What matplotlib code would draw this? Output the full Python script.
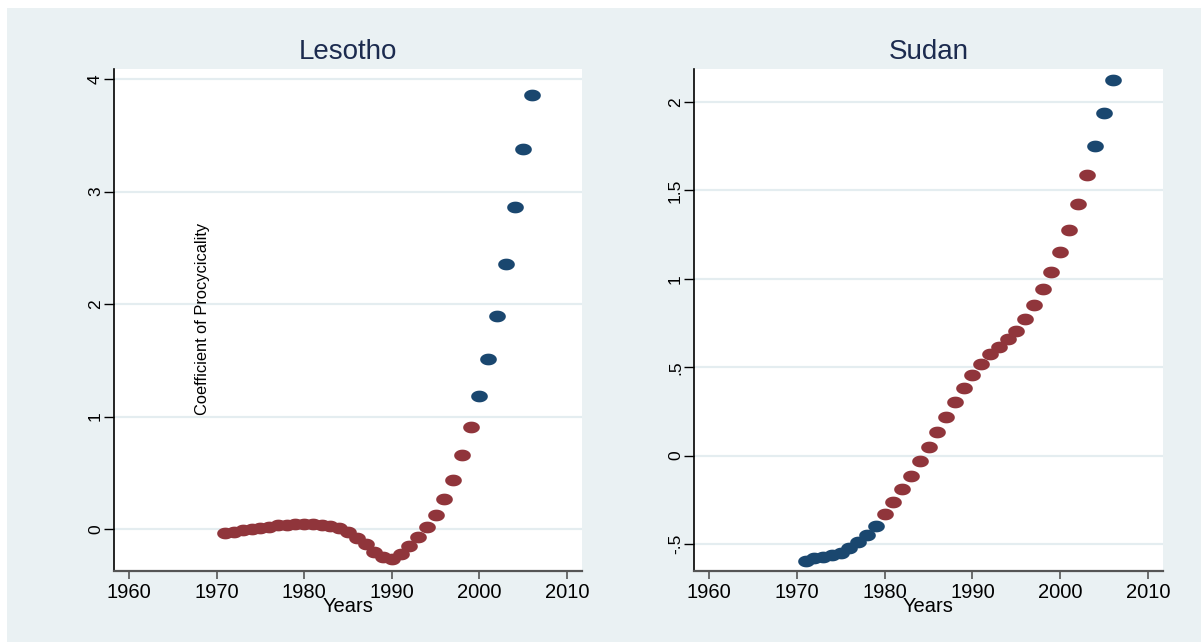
import numpy as np
import matplotlib
matplotlib.use("Agg")
import matplotlib.pyplot as plt
from matplotlib.path import Path
from matplotlib.patches import Rectangle

#---------- data

years = np.arange(1971, 2007)

lesotho = [-0.035, -0.022, -0.010, 0.003, 0.013, 0.022, 0.032, 0.038, 0.041, 0.044,
           0.044, 0.038, 0.029, 0.010, -0.029, -0.076, -0.130, -0.200, -0.250, -0.270,
           -0.225, -0.150, -0.067, 0.022, 0.127, 0.263, 0.435, 0.657, 0.905, 1.187,
           1.508, 1.898, 2.356, 2.860, 3.375, 3.860]
# 1 = significant (navy), 0 = not (maroon)
lesotho_sig = [0]*29 + [1]*7

sudan = [-0.594, -0.582, -0.574, -0.564, -0.550, -0.523, -0.489, -0.449, -0.398, -0.333,
         -0.263, -0.188, -0.113, -0.030, 0.050, 0.135, 0.220, 0.305, 0.382, 0.455,
         0.517, 0.572, 0.614, 0.659, 0.707, 0.774, 0.853, 0.940, 1.039, 1.152,
         1.277, 1.423, 1.585, 1.754, 1.936, 2.126]
sudan_sig = [1]*9 + [0]*24 + [1]*3

x_ticks = [1960, 1970, 1980, 1990, 2000, 2010]
lesotho_yticks = [0, 1, 2, 3, 4]
lesotho_ylabels = ['0', '1', '2', '3', '4']
sudan_yticks = [-0.5, 0, 0.5, 1, 1.5, 2]
sudan_ylabels = ['-.5', '0', '.5', '1', '1.5', '2']

#---------- style

navy = '#1a476f'
maroon = '#90353b'
bg = '#eaf1f3'
grid_col = '#e4edf0'
title_col = '#1c2b4f'
plt.rcParams['font.family'] = ['Liberation Sans', 'DejaVu Sans']

# Stata's export is stretched sideways, so markers are ellipses
t = np.linspace(0, 2*np.pi, 40)
ell = Path(np.column_stack([1.42*np.cos(t), np.sin(t)]), closed=True)

W, H = 1201, 642
fig = plt.figure(figsize=(W/100, H/100), dpi=100)
fig.patch.set_facecolor('white')
fig.patches.append(Rectangle((7/W, 0), 1 - 7/W, 1 - 8/H, transform=fig.transFigure,
                             facecolor=bg, edgecolor='none', zorder=-10))

def panel(left, right, vals, sig, yticks, ylabels, ylim, title):
    ax = fig.add_axes([left/W, (H-571)/H, (right-left)/W, (571-69)/H])
    ax.set_facecolor('white')
    v = np.array(vals)
    s = np.array(sig) == 1
    ax.plot(years[~s], v[~s], ls='none', marker=ell, ms=12, color=maroon, mec='none', zorder=3)
    ax.plot(years[s], v[s], ls='none', marker=ell, ms=12, color=navy, mec='none', zorder=3)
    ax.set_xlim(1958.3, 2011.7)
    ax.set_ylim(*ylim)
    ax.set_xticks(x_ticks)
    ax.set_yticks(yticks, ylabels)
    ax.yaxis.grid(True, color=grid_col, lw=1.6)
    ax.set_axisbelow(True)
    for sp in ['top', 'right']:
        ax.spines[sp].set_visible(False)
    ax.spines['left'].set_color('black')
    ax.spines['left'].set_linewidth(1.2)
    ax.spines['bottom'].set_color('#555555')
    ax.spines['bottom'].set_linewidth(1.6)
    ax.tick_params(axis='x', length=6, width=1.2, color='#555555', labelsize=14.5, pad=3)
    ax.tick_params(axis='y', length=7, width=1, color='black', labelsize=12.5, pad=1)
    for lab in ax.get_yticklabels():
        lab.set_rotation(90)
        lab.set_va('center')
    ax.set_xlabel('Years', fontsize=14.5, labelpad=-4)
    ax.set_title(title, fontsize=20, color=title_col, pad=7)
    return ax

ax1 = panel(114, 582, lesotho, lesotho_sig, lesotho_yticks, lesotho_ylabels, (-0.373, 4.09), 'Lesotho')
ax2 = panel(694, 1163, sudan, sudan_sig, sudan_yticks, sudan_ylabels, (-0.653, 2.187), 'Sudan')

fig.text(202/W, 1 - 319/H, 'Coefficient of Procycicality', rotation=90,
         ha='center', va='center', fontsize=11.8, color='black')

plt.savefig('out.png', dpi=100)
plt.close()
